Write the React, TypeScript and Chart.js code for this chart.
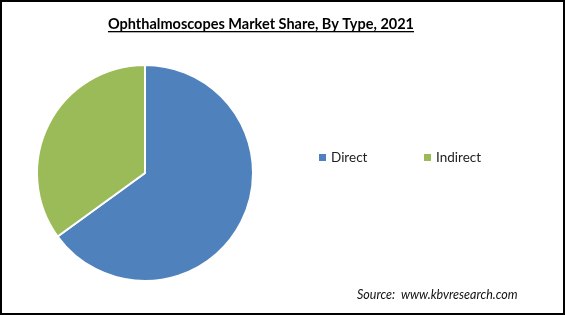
import React, { useEffect, useRef } from "react";
import { Chart, registerables } from "chart.js";

Chart.register(...registerables);

const title = "Ophthalmoscopes Market Share, By Type, 2021";
const categories = ["Direct", "Indirect"];
const shares = [65, 35];
const colors = ["#4F81BD", "#9BBB59"];
const source = "Source:  www.kbvresearch.com";

const W = 565;
const H = 315;

const decor = {
  id: "decor",
  afterDraw(chart: any) {
    const ctx = chart.ctx;
    ctx.save();
    // border
    ctx.strokeStyle = "#000";
    ctx.lineWidth = 2;
    ctx.strokeRect(1, 1, W - 2, H - 2);
    // title
    ctx.fillStyle = "#000";
    ctx.font = "bold 14.5px Lato";
    ctx.textAlign = "center";
    ctx.textBaseline = "alphabetic";
    ctx.fillText(title, 261, 29);
    const tw = ctx.measureText(title).width;
    ctx.fillRect(261 - tw / 2, 31, tw, 1.3);
    // legend
    ctx.font = "13.5px Lato";
    ctx.textAlign = "left";
    ctx.textBaseline = "middle";
    const lx = [319, 424];
    categories.forEach((c, i) => {
      ctx.fillStyle = colors[i];
      ctx.fillRect(lx[i], 154, 7, 7);
      ctx.fillStyle = "#222";
      ctx.fillText(c, lx[i] + 12, 158);
    });
    // source
    ctx.font = "italic 12.5px Lato";
    ctx.fillStyle = "#111";
    ctx.textAlign = "left";
    ctx.textBaseline = "alphabetic";
    ctx.fillText(source, 357, 299);
    ctx.restore();
  },
};

export default function App() {
  const ref = useRef<HTMLCanvasElement>(null);
  useEffect(() => {
    if (!ref.current) return;
    const chart = new Chart(ref.current, {
      type: "pie",
      data: {
        labels: categories,
        datasets: [
          {
            data: shares,
            backgroundColor: colors,
            borderColor: "#fff",
            borderWidth: 2,
          },
        ],
      },
      options: {
        animation: false,
        responsive: false,
        layout: {
          padding: { left: 36, top: 64, right: W - 36 - 218, bottom: H - 64 - 218 },
        },
        plugins: {
          legend: { display: false },
          tooltip: { enabled: false },
        },
      },
      plugins: [decor],
    });
    return () => chart.destroy();
  }, []);
  return (
    <div style={{ position: "absolute", left: 0, top: 0, width: W, height: H, background: "#fff" }}>
      <canvas ref={ref} width={W} height={H} style={{ width: W, height: H }} />
    </div>
  );
}
